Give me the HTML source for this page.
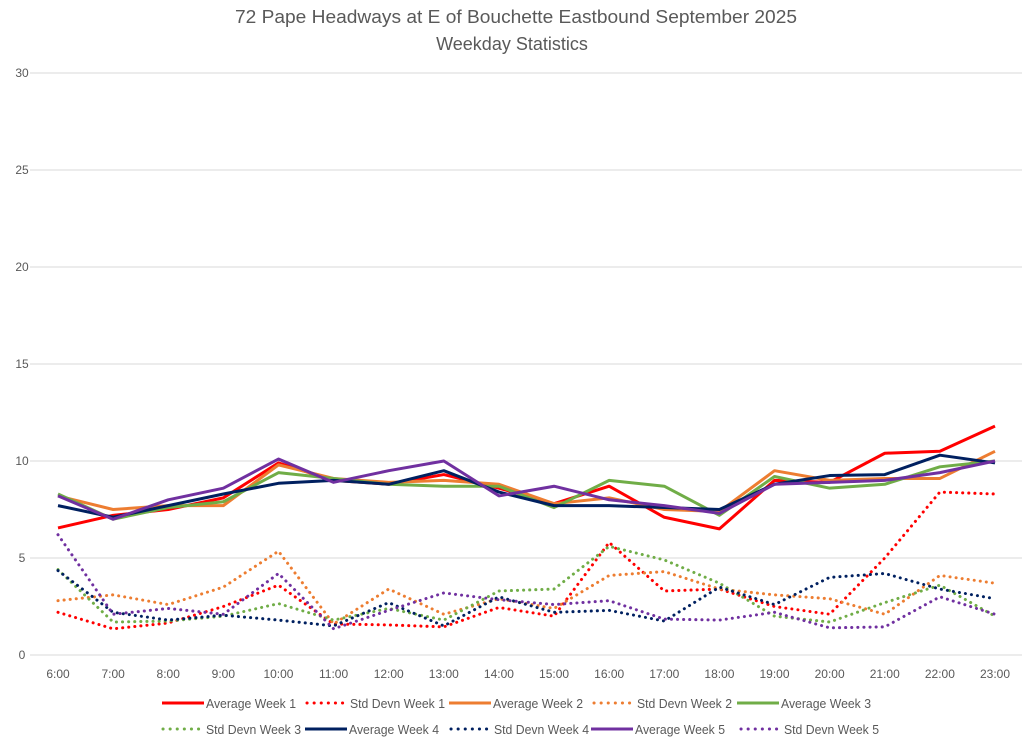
<!DOCTYPE html>
<html><head><meta charset="utf-8"><style>
body{margin:0;background:#fff;font-family:"Liberation Sans",sans-serif}
svg text{font-family:"Liberation Sans",sans-serif}
</style></head><body>
<svg id="c" width="1024" height="737"></svg>
<script>
const categories=["6:00","7:00","8:00","9:00","10:00","11:00","12:00","13:00","14:00","15:00","16:00","17:00","18:00","19:00","20:00","21:00","22:00","23:00"];
const yTicks=[0,5,10,15,20,25,30];
const avgW1=[6.55,7.2,7.5,8.1,9.9,9.0,8.8,9.3,8.6,7.8,8.7,7.1,6.5,9.0,8.9,10.4,10.5,11.8];
const sdW1=[2.2,1.35,1.65,2.5,3.6,1.6,1.55,1.45,2.45,2.0,5.8,3.3,3.4,2.5,2.1,5.0,8.4,8.3];
const avgW2=[8.2,7.5,7.7,7.7,9.8,9.1,8.9,9.0,8.8,7.8,8.1,7.5,7.4,9.5,9.0,9.1,9.1,10.5];
const sdW2=[2.8,3.1,2.6,3.5,5.35,1.6,3.4,2.1,2.9,2.4,4.1,4.3,3.4,3.1,2.9,2.1,4.1,3.7];
const avgW3=[8.3,7.0,7.6,7.9,9.4,9.1,8.8,8.7,8.7,7.6,9.0,8.7,7.2,9.2,8.6,8.8,9.7,10.0];
const sdW3=[4.4,1.7,1.75,2.0,2.65,1.8,2.4,1.8,3.3,3.4,5.6,4.9,3.7,2.0,1.7,2.7,3.6,2.0];
const avgW4=[7.7,7.1,7.7,8.3,8.85,9.0,8.8,9.5,8.4,7.7,7.7,7.6,7.5,8.8,9.25,9.3,10.3,9.9];
const sdW4=[4.35,2.2,1.8,2.05,1.8,1.5,2.7,1.5,3.0,2.2,2.3,1.75,3.5,2.6,4.0,4.2,3.4,2.9];
const avgW5=[8.2,7.0,8.0,8.6,10.1,8.9,9.5,10.0,8.2,8.7,8.0,7.7,7.3,8.8,8.9,9.0,9.4,10.0];
const sdW5=[6.2,2.1,2.4,2.1,4.2,1.35,2.3,3.2,2.85,2.6,2.8,1.85,1.8,2.2,1.4,1.45,3.0,2.1];
const NS="http://www.w3.org/2000/svg";
const svg=document.getElementById('c');
const X0=58,X1=995,Y0=655,Y1=73;
const xs=i=>X0+i*(X1-X0)/(categories.length-1);
const ys=v=>Y0-(v/30)*(Y0-Y1);
function mk(t,a,txt){const e=document.createElementNS(NS,t);for(const k in a)e.setAttribute(k,a[k]);if(txt!=null)e.textContent=txt;svg.appendChild(e);return e;}
let e;
e=mk('text',{x:235,y:23,'font-size':18,fill:'#595959',textLength:562,lengthAdjust:'spacingAndGlyphs'},'72 Pape Headways at E of Bouchette Eastbound September 2025');


e=mk('text',{x:512,y:50,'text-anchor':'middle','font-size':18,fill:'#595959'},'Weekday Statistics');


yTicks.forEach(v=>{
 e=mk('line',{x1:30,x2:1022,y1:ys(v),y2:ys(v),stroke:'#d9d9d9','stroke-width':1});
 
 
 e=mk('text',{x:22,y:ys(v)+4,'text-anchor':'middle','font-size':12,fill:'#595959'},String(v));
 
 
});
categories.forEach((c,i)=>{
 e=mk('text',{x:xs(i),y:678,'text-anchor':'middle','font-size':12,fill:'#595959'},c);
 
 
});
const series=[
 ['Average Week 1',avgW1,'#ff0000',false],['Std Devn Week 1',sdW1,'#ff0000',true],
 ['Average Week 2',avgW2,'#ed7d31',false],['Std Devn Week 2',sdW2,'#ed7d31',true],
 ['Average Week 3',avgW3,'#70ad47',false],['Std Devn Week 3',sdW3,'#70ad47',true],
 ['Average Week 4',avgW4,'#002060',false],['Std Devn Week 4',sdW4,'#002060',true],
 ['Average Week 5',avgW5,'#7030a0',false],['Std Devn Week 5',sdW5,'#7030a0',true]];
series.forEach(([name,d,col,dot])=>{
 const a={points:d.map((v,i)=>xs(i)+','+ys(v)).join(' '),fill:'none',stroke:col,'stroke-width':3,'stroke-linejoin':'round'};
 if(dot){a['stroke-dasharray']='0.1 6';a['stroke-linecap']='round';}
 e=mk('polyline',a);
 
 
});
const lx=[[162,306,449,593,737],[162,305,450,591,740]];
series.forEach(([name,d,col,dot],k)=>{
 const row=k<5?0:1, ci=k%5;
 const x=lx[row][ci]; const y=row===0?703:729;
 const a={x1:dot?x+1:x,x2:dot?x+37:x+42,y1:y,y2:y,stroke:col,'stroke-width':3};
 if(dot){a['stroke-dasharray']='0.1 7';a['stroke-linecap']='round';}
 e=mk('line',a);
 
 
 e=mk('text',{x:x+44,y:y+5,'font-size':13,fill:'#595959',textLength:name.length>14?95:90,lengthAdjust:'spacingAndGlyphs'},name);
 
 
});
</script>
</body></html>
